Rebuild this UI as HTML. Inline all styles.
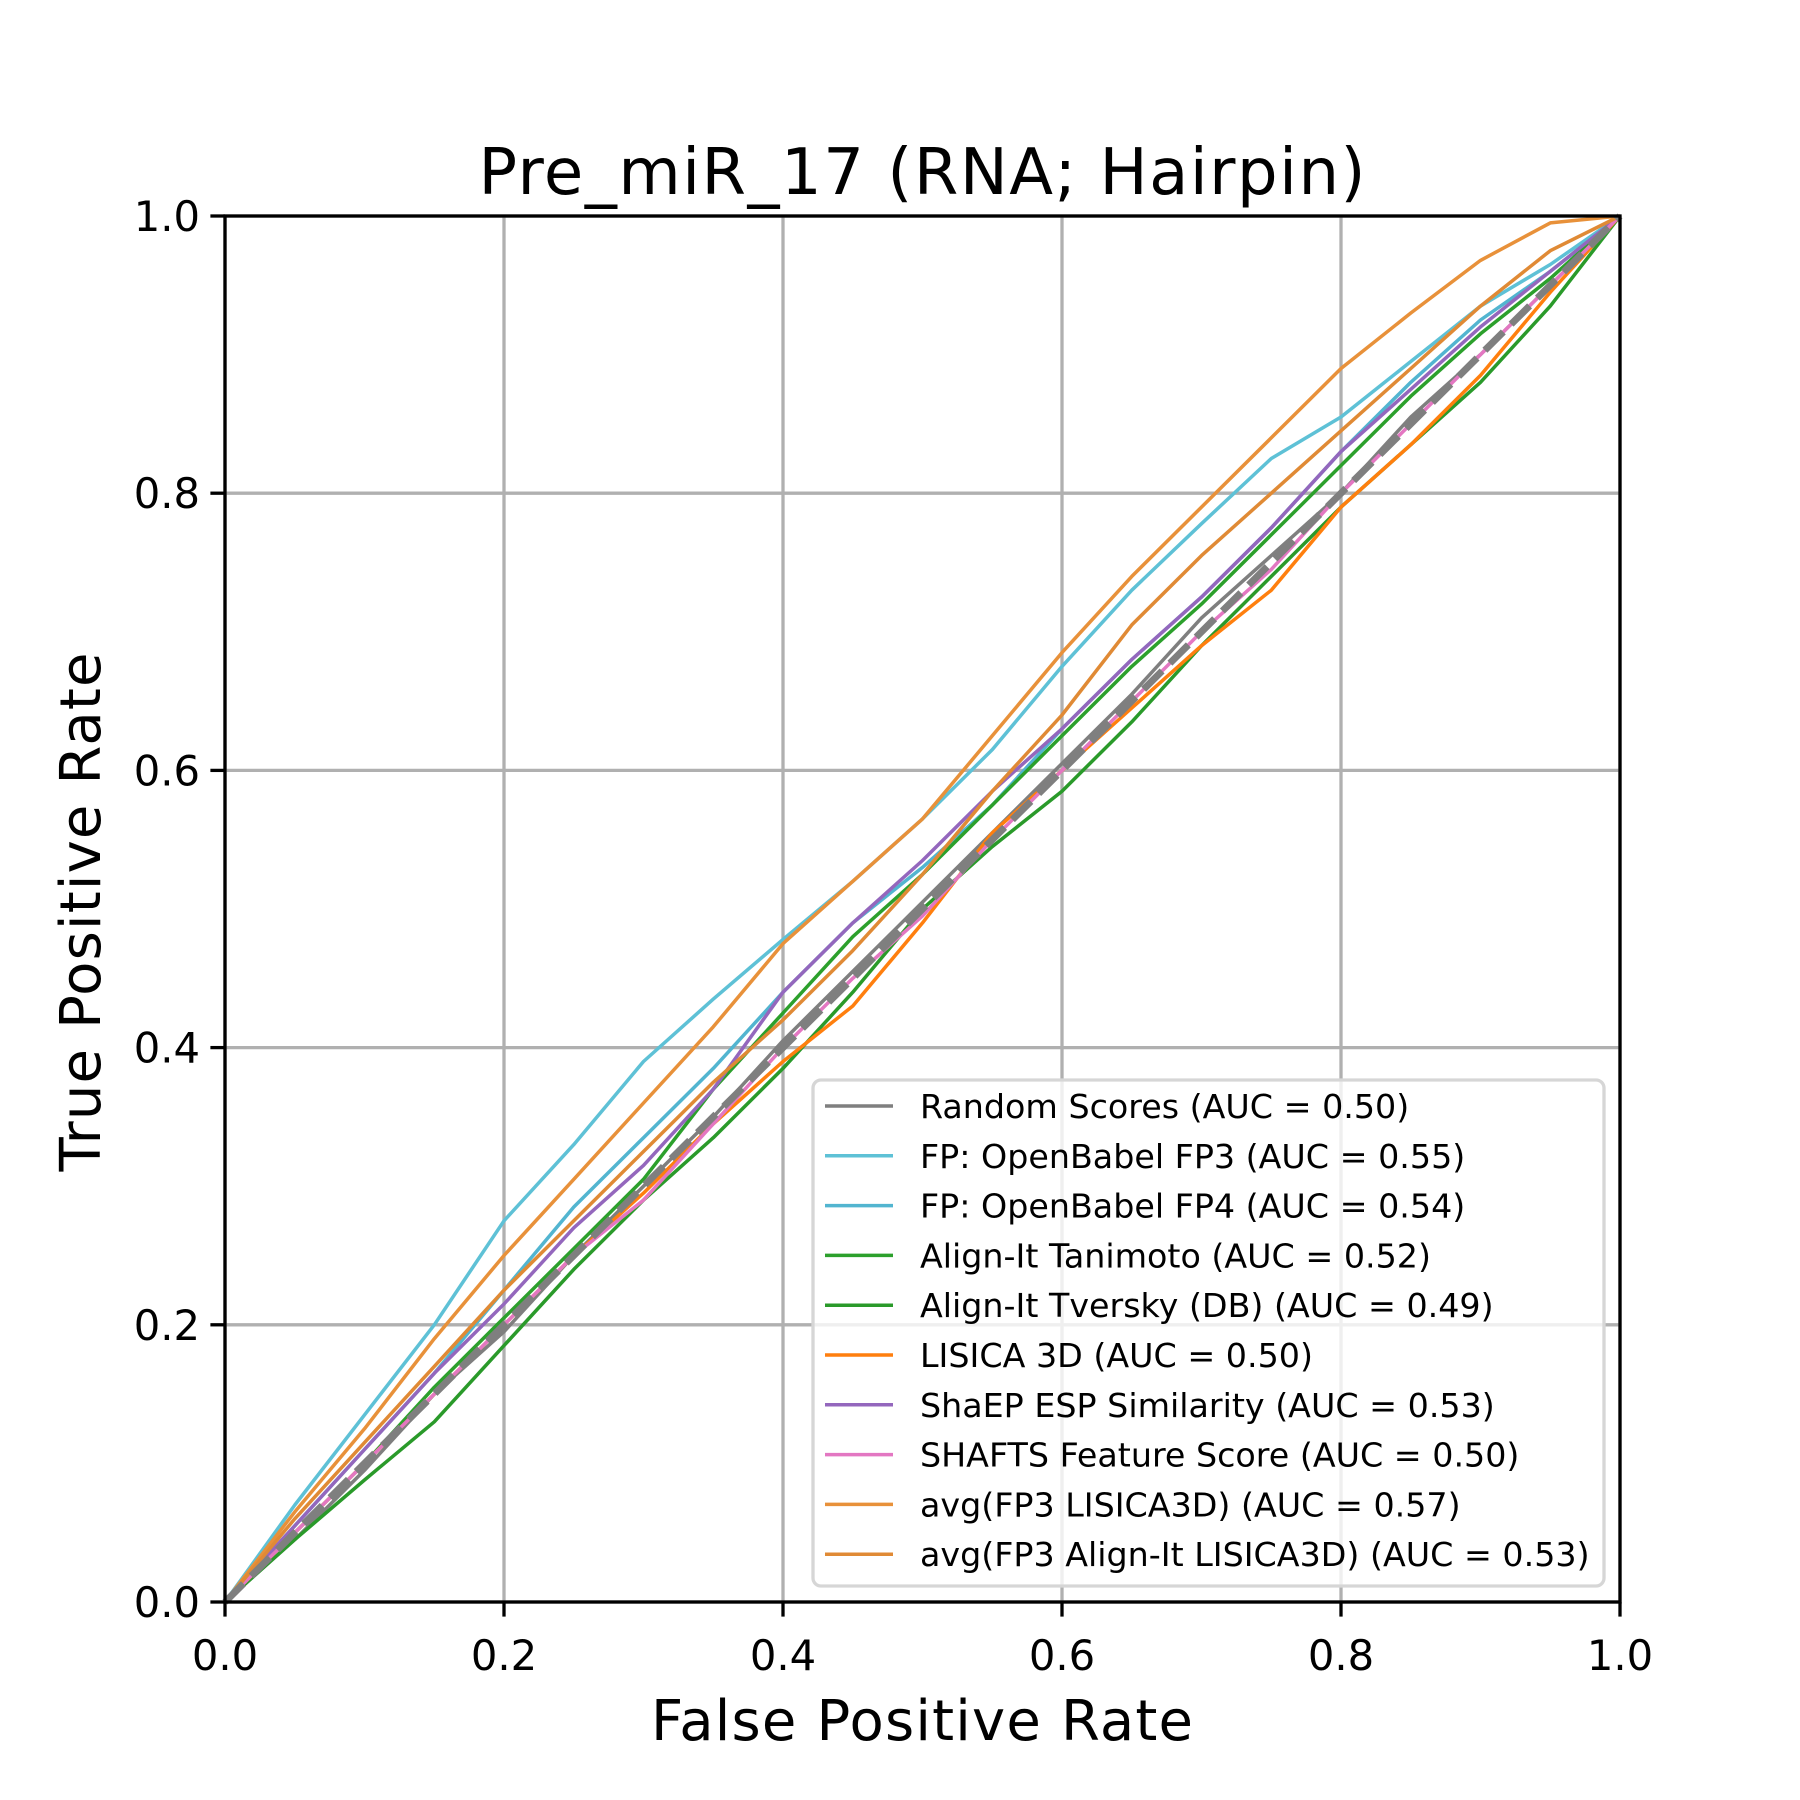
<!DOCTYPE html>
<html><head><meta charset="utf-8"><style>
html,body{margin:0;padding:0;background:#fff}
svg{display:block;font-family:"DejaVu Sans","Liberation Sans",sans-serif}
</style></head><body>
<svg id="chart" width="1800" height="1800" viewBox="0 0 1800 1800" xmlns="http://www.w3.org/2000/svg">
<rect width="1800" height="1800" fill="#fff"/>
<g id="grid"></g>
<g id="curves"></g>
<g id="axes"></g>
<text x="922" y="194" font-size="64" text-anchor="middle" textLength="887">Pre_miR_17 (RNA; Hairpin)</text>
<text x="922" y="1740" font-size="56" text-anchor="middle" textLength="542">False Positive Rate</text>
<text x="0" y="0" font-size="56" text-anchor="middle" textLength="519" transform="translate(100,912) rotate(-90)">True Positive Rate</text>
<g id="legend"></g>
</svg>
<script>
const xTicks=[0,0.2,0.4,0.6,0.8,1.0];
const yTicks=[0,0.2,0.4,0.6,0.8,1.0];
const tickLabels=["0.0","0.2","0.4","0.6","0.8","1.0"];
const seriesNames=["Random Scores (AUC = 0.50)","FP: OpenBabel FP3 (AUC = 0.55)","FP: OpenBabel FP4 (AUC = 0.54)","Align-It Tanimoto (AUC = 0.52)","Align-It Tversky (DB) (AUC = 0.49)","LISICA 3D (AUC = 0.50)","ShaEP ESP Similarity (AUC = 0.53)","SHAFTS Feature Score (AUC = 0.50)","avg(FP3 LISICA3D) (AUC = 0.57)","avg(FP3 Align-It LISICA3D) (AUC = 0.53)"];
const seriesColors=["#7f7f7f","#5ec1d6","#52b5d0","#2ca02c","#2a9a2a","#ff7f0e","#9467bd","#e377c2","#e8913a","#e08a35"];
const fprGrid=[0,0.05,0.1,0.15,0.2,0.25,0.3,0.35,0.4,0.45,0.5,0.55,0.6,0.65,0.7,0.75,0.8,0.85,0.9,0.95,1.0];
const tprRandom=[0,0.045,0.095,0.15,0.195,0.25,0.3,0.35,0.405,0.455,0.505,0.555,0.605,0.655,0.71,0.755,0.8,0.855,0.9,0.95,1.0];
const tprFP3=[0,0.07,0.135,0.2,0.275,0.33,0.39,0.435,0.478,0.52,0.565,0.615,0.675,0.73,0.778,0.825,0.855,0.895,0.935,0.965,1.0];
const tprFP4=[0,0.055,0.11,0.165,0.225,0.285,0.335,0.385,0.44,0.49,0.53,0.575,0.63,0.68,0.725,0.775,0.83,0.88,0.925,0.96,1.0];
const tprTanimoto=[0,0.05,0.1,0.155,0.205,0.255,0.305,0.37,0.425,0.48,0.525,0.575,0.625,0.675,0.72,0.77,0.82,0.87,0.915,0.955,1.0];
const tprTversky=[0,0.045,0.088,0.13,0.185,0.24,0.29,0.335,0.385,0.44,0.5,0.545,0.585,0.635,0.69,0.74,0.79,0.835,0.88,0.935,1.0];
const tprLisica=[0,0.05,0.1,0.15,0.2,0.25,0.295,0.345,0.39,0.43,0.49,0.555,0.6,0.645,0.69,0.73,0.79,0.835,0.885,0.945,1.0];
const tprShaep=[0,0.055,0.11,0.165,0.215,0.27,0.315,0.37,0.44,0.49,0.535,0.585,0.63,0.68,0.725,0.775,0.83,0.875,0.92,0.96,1.0];
const tprShafts=[0,0.05,0.1,0.15,0.2,0.25,0.29,0.345,0.4,0.45,0.495,0.55,0.6,0.65,0.7,0.745,0.8,0.85,0.9,0.95,1.0];
const tprAvg1=[0,0.065,0.125,0.19,0.25,0.305,0.36,0.415,0.475,0.52,0.565,0.625,0.685,0.74,0.79,0.84,0.89,0.93,0.968,0.995,1.0];
const tprAvg2=[0,0.06,0.115,0.17,0.225,0.275,0.325,0.375,0.42,0.47,0.525,0.585,0.64,0.705,0.755,0.8,0.845,0.89,0.935,0.975,1.0];
const seriesValues=[tprRandom,tprFP3,tprFP4,tprTanimoto,tprTversky,tprLisica,tprShaep,tprShafts,tprAvg1,tprAvg2];
const diagX=[0,1];
const diagY=[0,1];

const L=225,R=1620,T=216,B=1602;
const NS="http://www.w3.org/2000/svg";
function sx(v){return L+(R-L)*v;}
function sy(v){return B-(B-T)*v;}
function mk(tag,parent,attrs){const e=document.createElementNS(NS,tag);for(const k in attrs)e.setAttribute(k,attrs[k]);parent.appendChild(e);return e;}
const grid=document.getElementById('grid'),curves=document.getElementById('curves'),axes=document.getElementById('axes'),legend=document.getElementById('legend');

xTicks.forEach((t,i)=>{
  const g=mk('line',grid,{x1:sx(t),x2:sx(t),y1:T,y2:B,stroke:'#b0b0b0','stroke-width':3.3});
  
  
  const tk=mk('line',axes,{x1:sx(t),x2:sx(t),y1:B,y2:B+14.6,stroke:'#000','stroke-width':3.3});
  
  
  const tl=mk('text',axes,{x:sx(t),y:B+68,'font-size':41.7,'text-anchor':'middle'});
  tl.textContent=tickLabels[i];
  
  
});
yTicks.forEach((t,i)=>{
  const g=mk('line',grid,{x1:L,x2:R,y1:sy(t),y2:sy(t),stroke:'#b0b0b0','stroke-width':3.3});
  
  
  const tk=mk('line',axes,{x1:L-14.6,x2:L,y1:sy(t),y2:sy(t),stroke:'#000','stroke-width':3.3});
  
  
  const tl=mk('text',axes,{x:L-25,y:sy(t)+15,'font-size':41.7,'text-anchor':'end'});
  tl.textContent=tickLabels[i];
  
  
});

seriesValues.forEach((vals,si)=>{
  const d=vals.map((v,i)=>(i?'L':'M')+sx(fprGrid[i]).toFixed(1)+','+sy(v).toFixed(1)).join(' ');
  const p=mk('path',curves,{d:d,fill:'none',stroke:seriesColors[si],'stroke-width':3.5,'stroke-linejoin':'round'});
  
  
});
const dg=mk('path',curves,{d:'M'+sx(diagX[0])+','+sy(diagY[0])+' L'+sx(diagX[1])+','+sy(diagY[1]),stroke:'#7f7f7f','stroke-width':7,'stroke-dasharray':'26,11',fill:'none'});



const sp=mk('rect',axes,{x:L,y:T,width:R-L,height:B-T,fill:'none',stroke:'#000','stroke-width':3.3});



const lb=mk('rect',legend,{x:813,y:1080,width:791,height:506,rx:8,fill:'#fff','fill-opacity':0.8,stroke:'#d6d6d6','stroke-width':3.3});


seriesNames.forEach((n,i)=>{
  const y=1106+i*49.8;
  const ln=mk('line',legend,{x1:825,x2:893,y1:y,y2:y,stroke:seriesColors[i],'stroke-width':3.5});
  
  
  const tx=mk('text',legend,{x:920,y:y+12,'font-size':33.3});
  tx.textContent=n;
  
  
});
</script>
</body></html>
